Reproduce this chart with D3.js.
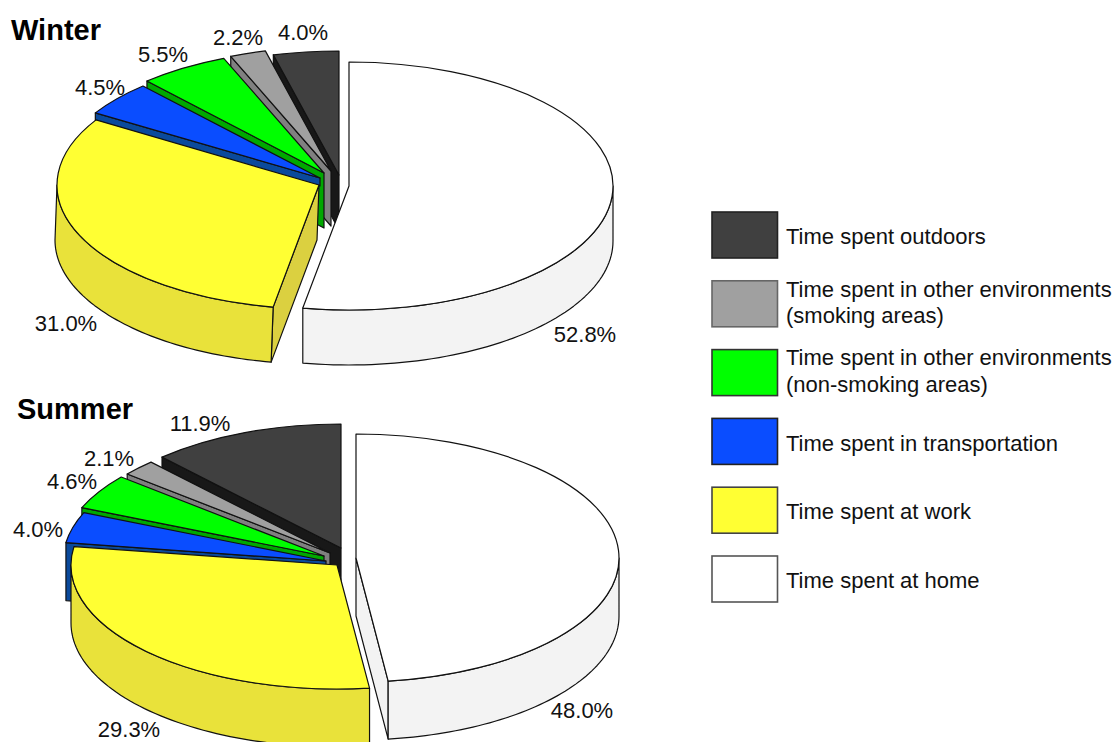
<!DOCTYPE html>
<html>
<head>
<meta charset="utf-8">
<script src="https://cdn.jsdelivr.net/npm/d3@7"></script>
<style>
  html, body { margin: 0; padding: 0; background: #fff; overflow: hidden; }
  svg { display: block; }
  text { font-family: "Liberation Sans", Arial, sans-serif; fill: #111; }
</style>
</head>
<body>
<div id="chart"></div>
<script>
// values, clockwise from 12 o'clock
var categories = ["home", "work", "transportation", "non-smoking", "smoking", "outdoors"];
var winterValues = [52.8, 31.0, 4.5, 5.5, 2.2, 4.0];
var summerValues = [48.0, 29.3, 4.0, 4.6, 2.1, 11.9];

// legend goes top to bottom, each entry can be two lines
var legendCategories = ["outdoors", "smoking", "non-smoking", "transportation", "work", "home"];
var legendLines = [
  ["Time spent outdoors"],
  ["Time spent in other environments", "(smoking areas)"],
  ["Time spent in other environments", "(non-smoking areas)"],
  ["Time spent in transportation"],
  ["Time spent at work"],
  ["Time spent at home"]
];

// colors for top, outer wall and cut wall
var topColor = d3.scaleOrdinal().domain(categories)
  .range(["#ffffff", "#ffff33", "#0a4dff", "#00ff00", "#a0a0a0", "#404040"]);
var outerColor = d3.scaleOrdinal().domain(categories)
  .range(["#f3f3f3", "#e9e23a", "#0a4a9c", "#00a800", "#808080", "#181818"]);
var cutColor = d3.scaleOrdinal().domain(categories)
  .range(["#f3f3f3", "#dbd040", "#0a4a9c", "#00a800", "#808080", "#181818"]);
var legendStroke = d3.scaleOrdinal().domain(legendCategories)
  .range(["#222", "#666", "#333", "#222", "#444", "#555"]);

var svgWidth = 1114;
var svgHeight = 742;

var svg = d3.select("#chart")
  .append("svg")
  .attr("width", svgWidth)
  .attr("height", svgHeight);

// every slice is pulled out by hand, so each gets its own geometry
// x, y are the tip of the slice; rx, skew, depth override the chart's values
var winter = {
  title: "Winter", titleX: 11, titleY: 40,
  values: winterValues,
  rx: 264, ry: 124, depth: 55,
  slices: {
    home: { x: 349, y: 186 },
    work: { x: 319, y: 185, rx: 262, skew: -2 },
    transportation: { x: 320, y: 178, depth: 8 },
    "non-smoking": { x: 324, y: 173 },
    smoking: { x: 331, y: 171 },
    outdoors: { x: 339, y: 175 }
  },
  labels: { home: [585, 342], work: [66, 331], transportation: [100, 95], "non-smoking": [163, 62], smoking: [238, 45], outdoors: [303, 40] }
};

var summer = {
  title: "Summer", titleX: 17, titleY: 419,
  values: summerValues,
  rx: 263, ry: 124, depth: 58,
  slices: {
    home: { x: 356, y: 558 },
    work: { x: 337, y: 565, rx: 266 },
    transportation: { x: 326, y: 561 },
    "non-smoking": { x: 324, y: 556 },
    smoking: { x: 330, y: 553 },
    outdoors: { x: 341, y: 548 }
  },
  labels: { home: [582, 718], work: [129, 737], transportation: [38, 537], "non-smoking": [72, 489], smoking: [109, 466], outdoors: [200, 431] }
};

var pie = d3.pie().sort(null).value(d => d);
var wallLine = d3.line();

function drawPie(chart) {
  var group = svg.append("g");
  var slices = pie(chart.values);

  // back slices first, so the front ones cover their walls
  slices.slice().reverse().forEach(function(slice) {
    var name = categories[slice.index];
    var place = chart.slices[name];
    var rx = place.rx || chart.rx;
    var skew = place.skew || 0;
    var depth = place.depth || chart.depth;

    // unit circle -> ellipse of this slice
    var xScale = d3.scaleLinear().domain([-1, 1]).range([place.x - rx, place.x + rx]);
    var yScale = d3.scaleLinear().domain([-1, 1]).range([place.y + chart.ry, place.y - chart.ry]);
    var top = a => [xScale(Math.sin(a)), yScale(Math.cos(a))];
    var bottom = a => [xScale(Math.sin(a)) + skew, yScale(Math.cos(a)) + depth];
    var apex = [place.x, place.y];
    var apexLow = [place.x + skew, place.y + depth];

    // cut face, only when it turns to the viewer
    var cutAngle = null;
    if (Math.sin(slice.startAngle) < -0.001) cutAngle = slice.startAngle;
    else if (Math.sin(slice.endAngle) > 0.001) cutAngle = slice.endAngle;
    if (cutAngle !== null) {
      group.append("path")
        .attr("d", wallLine([apex, top(cutAngle), bottom(cutAngle), apexLow]) + "Z")
        .attr("fill", cutColor(name))
        .attr("stroke", "#111")
        .attr("stroke-width", 1.2)
        .attr("stroke-linejoin", "round");
    }

    // outer wall between 3 and 9 o'clock
    var from = Math.max(slice.startAngle, Math.PI / 2);
    var to = Math.min(slice.endAngle, Math.PI * 1.5);
    if (to > from) {
      var steps = d3.range(0, 61).map(i => from + (to - from) * i / 60);
      var wall = steps.map(top).concat(steps.slice().reverse().map(bottom));
      group.append("path")
        .attr("d", wallLine(wall) + "Z")
        .attr("fill", outerColor(name))
        .attr("stroke", "#111")
        .attr("stroke-width", 1.2)
        .attr("stroke-linejoin", "round");
    }

    // top face: circular arc squashed into an ellipse
    var arc = d3.arc().innerRadius(0).outerRadius(rx);
    group.append("path")
      .attr("d", arc(slice))
      .attr("transform", `translate(${place.x}, ${place.y}) scale(1, ${chart.ry / rx})`)
      .attr("vector-effect", "non-scaling-stroke")
      .attr("fill", topColor(name))
      .attr("stroke", "#111")
      .attr("stroke-width", 1.2)
      .attr("stroke-linejoin", "round");
  });

  // percent labels
  slices.forEach(function(slice) {
    var name = categories[slice.index];
    group.append("text")
      .attr("x", chart.labels[name][0])
      .attr("y", chart.labels[name][1])
      .attr("text-anchor", "middle")
      .attr("font-size", "22px")
      .text(slice.data.toFixed(1) + "%");
  });

  group.append("text")
    .attr("x", chart.titleX)
    .attr("y", chart.titleY)
    .attr("font-size", "29px")
    .attr("font-weight", "bold")
    .style("fill", "#000")
    .text(chart.title);
}

drawPie(winter);
drawPie(summer);

// legend
var legendY = d3.scalePoint().domain(legendCategories).range([212, 556]);
var legendBaselines = [[244], [297, 323], [365, 392], [451], [519], [588]];

var legend = svg.append("g");
legendCategories.forEach(function(name, i) {
  legend.append("rect")
    .attr("x", 712)
    .attr("y", legendY(name))
    .attr("width", 65.5)
    .attr("height", 46)
    .attr("fill", topColor(name))
    .attr("stroke", legendStroke(name))
    .attr("stroke-width", 1.6);

  legendLines[i].forEach(function(line, j) {
    legend.append("text")
      .attr("x", 786)
      .attr("y", legendBaselines[i][j])
      .attr("font-size", "22px")
      .text(line);
  });
});
</script>
</body>
</html>
